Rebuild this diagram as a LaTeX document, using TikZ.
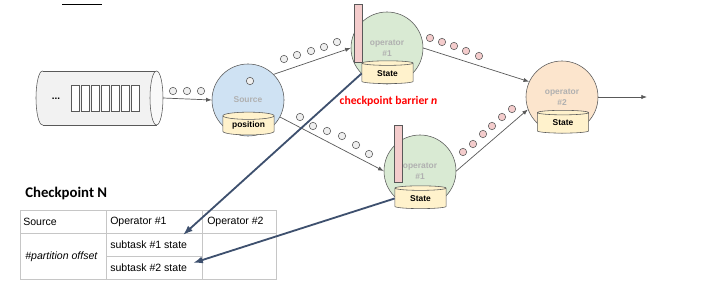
\documentclass[tikz,border=0pt]{standalone}
\usepackage{fontspec}
\setmainfont{Liberation Sans}
\newfontfamily\calib{Carlito}
\usepackage{xcolor}
\usepackage{tikz}
\usetikzlibrary{arrows.meta,shapes.geometric,calc,positioning}

\definecolor{linegray}{HTML}{595959}
\definecolor{srcblue}{HTML}{CFE2F3}
\definecolor{opgreen}{HTML}{D9EAD3}
\definecolor{oporange}{HTML}{FCE5CD}
\definecolor{dbyellow}{HTML}{FFF2CC}
\definecolor{barpink}{HTML}{F4CCCC}
\definecolor{recgray}{HTML}{EFEFEF}
\definecolor{optext}{HTML}{B0B0B0}
\definecolor{snapblue}{RGB}{62,80,110}
\definecolor{gridgray}{HTML}{C6C6C6}

\begin{document}
\begin{tikzpicture}[x=0.025cm,y=-0.025cm,>=Latex,
  opnode/.style={circle,draw=linegray,minimum size=1.8cm,inner sep=0pt,
    font=\fontsize{6}{7.5}\selectfont\bfseries,text=optext,align=center},
  db/.style={cylinder,shape border rotate=90,aspect=0.22,draw=linegray,fill=dbyellow,
    minimum width=1.28cm,minimum height=0.57cm,inner sep=0pt,
    font=\fontsize{6}{7}\selectfont\bfseries},
  rec/.style={circle,draw=linegray,fill=recgray,minimum size=0.185cm,inner sep=0pt},
  prec/.style={rec,fill=barpink},
  barrier/.style={draw=linegray,fill=barpink,minimum width=0.2cm,inner sep=0pt},
  flow/.style={-{Latex[length=4pt,width=3pt]},draw=linegray,line width=0.5pt},
  snap/.style={-{Latex[length=7pt,width=5pt]},draw=snapblue,line width=1.3pt},
  cell/.style={anchor=west,inner sep=0pt,font=\fontsize{7.5}{8}\selectfont}]
\useasboundingbox (0,0) rectangle (703,289);

\draw[black,line width=0.6pt] (62,4.5) -- (102,4.5);

% input queue
\draw[linegray,fill=recgray!80] (42.5,98) ellipse [x radius=6.5,y radius=27];
\fill[recgray!80] (42.5,71) rectangle (156.5,125);
\draw[linegray] (42.5,71) -- (156.5,71) (42.5,125) -- (156.5,125);
\draw[linegray,fill=recgray!40] (156.5,98) ellipse [x radius=6.5,y radius=27];
\coordinate (queue) at (163,98);
\node[font=\fontsize{7}{8}\selectfont\bfseries] (dots) at (56,99) {...};
\foreach \k in {0,...,6}
  \draw[linegray,fill=white] (71+\k*10,85) rectangle ++(8,26);

% operators
\node[opnode,fill=srcblue] (src) at (248,100) {Source};
\node[rec] (srcrec) at (250,81) {};
\node[db] (pos) at (248.5,125.5) {position};

\node[opnode,fill=opgreen] (op1a) at (387,48) {operator\\\#1};
\node[barrier,minimum height=1.45cm] (bar1) at (358,33) {};
\node[db] (st1a) at (387.5,73.5) {State};

\node[opnode,fill=opgreen] (op1b) at (420,171) {operator\\\#1};
\node[barrier,minimum height=1.425cm] (bar2) at (398,153.5) {};
\node[db] (st1b) at (420.5,198.5) {State};

\node[opnode,fill=oporange] (op2) at (562,97) {operator\\\#2};
\node[db] (st2) at (563,123) {State};

\coordinate (out) at (647,97);

% streams
\draw[flow] (queue) -- (src.west);
\draw[flow] (src.45) -- (op1a.west);
\draw[flow] (src.-28) -- (op1b.west);
\draw[flow] (op1a.east) -- (op2.155);
\draw[flow] (op1b.east) -- (op2.200);
\draw[flow] (op2.east) -- (out);

% records
\foreach \p [count=\i] in {(173,91),(187,91),(201,91),(284,59),(297,55),(311,51),
    (324,47),(337,42),(300,117),(313,126),(327,131),(342,136),(356,145),(369,154)}
  \node[rec] (r\i) at \p {};
\foreach \p [count=\i] in {(430,38),(442,42),(454,46),(466,51),(479,56),
    (463,152),(473,144),(483,134),(492,126),(502,117),(512,109)}
  \node[prec] (b\i) at \p {};

\node[font=\calib\fontsize{8.3}{9}\selectfont\bfseries,text=red] (cbar) at (388.5,101)
  {checkpoint barrier \textit{n}};

% checkpoint table
\node[anchor=west,inner sep=0pt,font=\calib\fontsize{10.5}{12}\selectfont\bfseries]
  (title) at (25,193) {Checkpoint N};
\draw[gridgray,line width=0.6pt] (20,210) rectangle (276,279)
  (20,233) -- (276,233) (106,210) -- (106,279) (202,210) -- (202,279)
  (106,256) -- (202,256);
\node[cell] (hsrc) at (23,222) {Source};
\node[cell] (hop1) at (110,222) {Operator \#1};
\node[cell] (hop2) at (207,222) {Operator \#2};
\node[cell,font=\fontsize{7.5}{8}\selectfont\itshape] (csrc) at (25,257) {\#partition offset};
\node[cell] (sub1) at (110,245) {subtask \#1 state};
\node[cell] (sub2) at (110,268) {subtask \#2 state};

\coordinate (in1) at (183,235);
\coordinate (in2) at (193,263);
\draw[snap] (st1a.west) -- (in1);
\draw[snap] (st1b.west) -- (in2);
\end{tikzpicture}
\end{document}
